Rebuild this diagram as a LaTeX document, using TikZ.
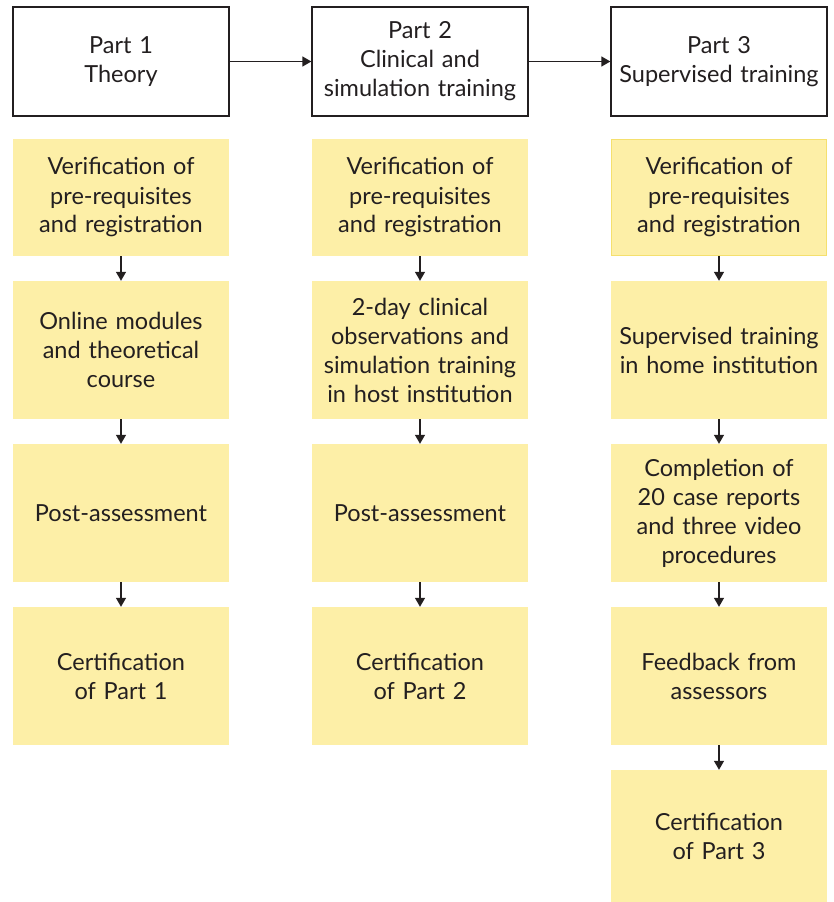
\documentclass[tikz,border=0pt]{standalone}
\usepackage{fontspec}
\setmainfont{Lato}
\usetikzlibrary{arrows.meta}
\definecolor{boxyellow}{HTML}{FDEFA7}
\definecolor{edgeyellow}{HTML}{F5E06E}
\definecolor{ink}{HTML}{231F20}
\tikzset{
  x=1pt, y=1pt,
  base/.style={minimum width=216pt, inner sep=0pt, align=center, text width=214pt,
    font=\fontsize{23.5}{29}\selectfont, text=ink},
  headbox/.style={base, draw=ink, line width=1.3pt, fill=white, minimum height=109pt},
  ybox/.style={base, fill=boxyellow, minimum height=138pt},
  flow/.style={draw=ink, line width=1.3pt, -{Triangle[length=9pt,width=10pt]}}
}
\begin{document}
\begin{tikzpicture}
\useasboundingbox (0,0) rectangle (833,-902);
% headers
\node[headbox] (h1) at (121,-61.5) {Part 1\\Theory};
\node[headbox] (h2) at (420,-61.5) {Part 2\\Clinical and\\simulation training};
\node[headbox] (h3) at (719,-61.5) {Part 3\\Supervised training};
\draw[flow] (h1) -- (h2);
\draw[flow] (h2) -- (h3);
% column 1
\node[ybox, minimum height=117pt] (a1) at (121,-197.5) {Verification of\\pre-requisites\\and registration};
\node[ybox] (a2) at (121,-350) {Online modules\\and theoretical\\course};
\node[ybox] (a3) at (121,-513) {Post-assessment};
\node[ybox] (a4) at (121,-676) {Certification\\of Part 1};
% column 2
\node[ybox, minimum height=117pt] (b1) at (420,-197.5) {Verification of\\pre-requisites\\and registration};
\node[ybox] (b2) at (420,-350) {2-day clinical\\observations and\\simulation training\\in host institution};
\node[ybox] (b3) at (420,-513) {Post-assessment};
\node[ybox] (b4) at (420,-676) {Certification\\of Part 2};
% column 3
\node[ybox, minimum height=116pt, minimum width=215pt, draw=edgeyellow, line width=1.8pt] (c1) at (719,-197.5) {Verification of\\pre-requisites\\and registration};
\node[ybox] (c2) at (719,-350) {Supervised training\\in home institution};
\node[ybox] (c3) at (719,-513) {Completion of\\20 case reports\\and three video\\procedures};
\node[ybox] (c4) at (719,-676) {Feedback from\\assessors};
\node[ybox, minimum height=132pt] (c5) at (719,-836) {Certification\\of Part 3};
% arrows
\draw[flow] (a1) -- (a2);
\draw[flow] (a2) -- (a3);
\draw[flow] (a3) -- (a4);
\draw[flow] (b1) -- (b2);
\draw[flow] (b2) -- (b3);
\draw[flow] (b3) -- (b4);
\draw[flow] (c1) -- (c2);
\draw[flow] (c2) -- (c3);
\draw[flow] (c3) -- (c4);
\draw[flow] (c4) -- (c5);
\end{tikzpicture}
\end{document}
